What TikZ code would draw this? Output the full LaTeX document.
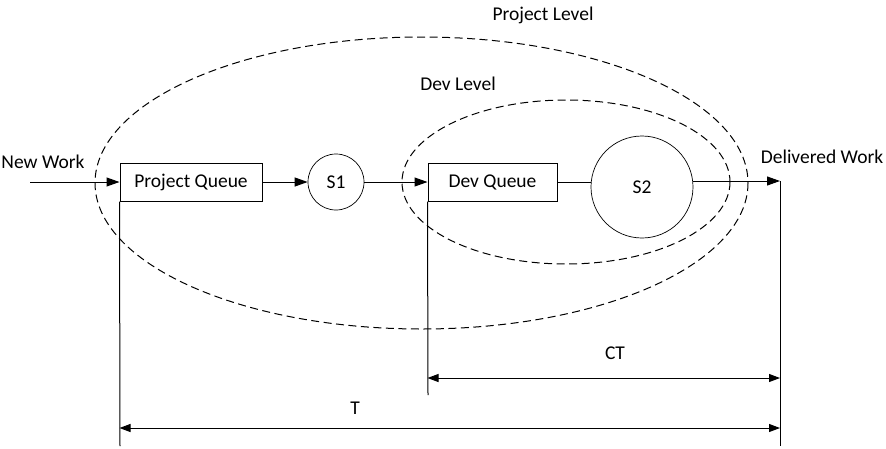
\documentclass[tikz,border=0pt]{standalone}
\usepackage{fontspec}
\setmainfont{Carlito}
\usetikzlibrary{arrows.meta,positioning,calc}

\begin{document}
\begin{tikzpicture}[
  x=1pt, y=-1pt,
  font=\fontsize{19.5}{22}\selectfont,
  line width=1pt,
  queue/.style={draw, minimum width=142pt, minimum height=38pt, inner sep=0pt},
  server/.style={draw, circle, inner sep=0pt, line width=0.7pt},
  lvl/.style={dash pattern=on 8pt off 4.5pt, line width=1pt},
  arr/.style={-{Triangle[length=13pt, width=9pt]}},
  dim/.style={{Triangle[length=11pt, width=8pt]}-{Triangle[length=11pt, width=8pt]}}
]
  \useasboundingbox (0,0) rectangle (886,448);

  % Queues and servers
  \node[queue] (pq) at (191,182) {Project Queue};
  \node[server, minimum size=56pt] (s1) at (336,182) {S1};
  \node[queue, minimum width=129pt] (dq) at (492.5,182) {Dev Queue};
  \node[server, minimum size=102pt] (s2) at (642,187) {S2};

  % Inflow and outflow
  \coordinate (in) at (30,182);
  \coordinate (out) at (780,181);
  \node[inner sep=0pt] (newwork) at (43,162) {New Work};
  \node[inner sep=0pt] (delivered) at (822,157) {Delivered Work};

  % Flow
  \draw[arr] (in) -- (pq.west);
  \draw[arr] (pq.east) -- (s1.west);
  \draw[arr] (s1.east) -- (dq.west);
  \draw (dq.east) -- (dq.east -| s2.west);
  \draw[arr] (s2.east |- out) -- (out);

  % Level boundaries
  \draw[lvl] (421.5,183) ellipse [x radius=326.5, y radius=146];
  \draw[lvl] (566,182) ellipse [x radius=164, y radius=82];
  \node[inner sep=0pt] (projlvl) at (543,15) {Project Level};
  \node[inner sep=0pt] (devlvl) at (458,84) {Dev Level};

  % Extension lines
  \coordinate (pqbot) at (120,446);
  \coordinate (dqbot) at (428,395);
  \coordinate (outbot) at (780,446);
  \draw (pq.south west) -- (pqbot);
  \draw (dq.south west) -- (dqbot);
  \draw (out) -- (outbot);

  % Time spans
  \coordinate (ctline) at (0,378);
  \coordinate (tline) at (0,428);
  \draw[dim] (dq.south west |- ctline) -- (out |- ctline);
  \draw[dim] (pq.south west |- tline) -- (out |- tline);
  \node[inner sep=0pt] (ct) at (615,353) {CT};
  \node[inner sep=0pt] (t) at (355,408) {T};
\end{tikzpicture}
\end{document}
